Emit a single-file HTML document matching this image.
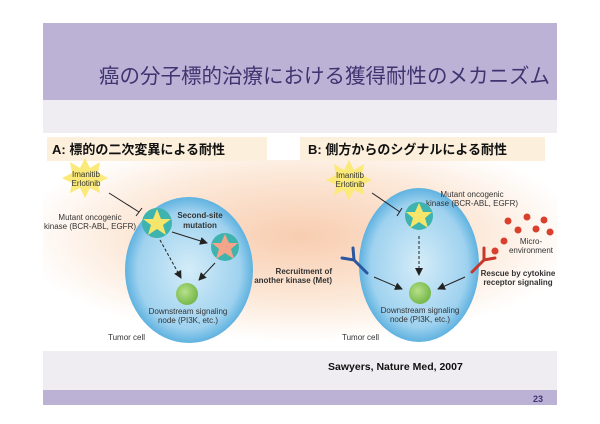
<!DOCTYPE html>
<html><head><meta charset="utf-8"><style>
body{margin:0;width:600px;height:424px;background:#fff;position:relative;overflow:hidden;font-family:"Liberation Sans","Noto Sans CJK JP",sans-serif}
.a{position:absolute}
</style></head><body>
<div class="a" style="left:43px;top:23px;width:514px;height:77px;background:#bcb2d6"></div>
<div class="a" style="left:43px;top:100px;width:514px;height:33px;background:#efedf2"></div>
<div class="a" style="left:99px;top:59px;font-size:20.5px;color:#3e3470;white-space:nowrap;letter-spacing:0px">癌の分子標的治療における獲得耐性のメカニズム</div>
<svg class="a" style="left:0;top:0" width="600" height="424">
<defs>
<radialGradient id="bg" cx="0.5" cy="0.4" r="0.55"><stop offset="0" stop-color="#f8cdb0"/><stop offset="0.6" stop-color="#fce8d8"/><stop offset="1" stop-color="#fff"/></radialGradient>
<radialGradient id="cell" cx="0.5" cy="0.5" r="0.5"><stop offset="0" stop-color="#d4ecf8"/><stop offset="0.8" stop-color="#9fd2ef"/><stop offset="1" stop-color="#5fb2e0"/></radialGradient>
<radialGradient id="gn" cx="0.4" cy="0.4" r="0.6"><stop offset="0" stop-color="#b8e08a"/><stop offset="1" stop-color="#76b84a"/></radialGradient>
<marker id="ar" markerWidth="8" markerHeight="8" refX="7" refY="4" orient="auto"><path d="M0,0L8,4L0,8z" fill="#222"/></marker>
</defs>
<rect x="43" y="160" width="514" height="191" fill="url(#bg)"/>
<rect x="47" y="137" width="220" height="24" fill="#fcefdc"/>
<rect x="300" y="137" width="245" height="24" fill="#fcefdc"/>
<rect x="43" y="351" width="514" height="39" fill="#efedf2"/>
<rect x="43" y="390" width="514" height="15" fill="#bcb2d6"/>
<!-- A -->
<ellipse cx="189" cy="270" rx="64" ry="73" fill="url(#cell)"/>
<polygon points="85,158 90,168 100,162 98,173 108,178 98,183 100,193 90,188 85,198 80,188 70,193 72,183 62,178 72,173 70,162 80,168" fill="#fbe97a"/>
<text x="86" y="177" font-size="8" text-anchor="middle" fill="#333">Imanitib</text>
<text x="86" y="186" font-size="8" text-anchor="middle" fill="#333">Erlotinib</text>
<line x1="109" y1="193" x2="139" y2="212" stroke="#222"/><line x1="136" y1="216" x2="142" y2="208" stroke="#222"/>
<text x="90" y="220" font-size="8" text-anchor="middle" fill="#333">Mutant oncogenic</text>
<text x="90" y="229" font-size="8" text-anchor="middle" fill="#333">kinase (BCR-ABL, EGFR)</text>
<circle cx="157" cy="223" r="15" fill="#3fb3ae"/>
<polygon points="157,209 161,219 171,219 163,225 166,235 157,229 148,235 151,225 143,219 153,219" fill="#f5e56a"/>
<circle cx="225" cy="247" r="14" fill="#3fb3ae"/>
<polygon points="225,234 229,243 238,243 231,249 234,259 225,253 216,259 219,249 212,243 221,243" fill="#f4a488"/>
<text x="200" y="218" font-size="8" font-weight="bold" text-anchor="middle" fill="#333">Second-site</text>
<text x="200" y="228" font-size="8" font-weight="bold" text-anchor="middle" fill="#333">mutation</text>
<line x1="172" y1="232" x2="207" y2="243" stroke="#222" marker-end="url(#ar)"/>
<line x1="160" y1="240" x2="181" y2="278" stroke="#222" stroke-dasharray="3,2" marker-end="url(#ar)"/>
<line x1="215" y1="263" x2="199" y2="280" stroke="#222" marker-end="url(#ar)"/>
<circle cx="187" cy="294" r="11" fill="url(#gn)"/>
<text x="188" y="314" font-size="8" text-anchor="middle" fill="#333">Downstream signaling</text>
<text x="188" y="323" font-size="8" text-anchor="middle" fill="#333">node (PI3K, etc.)</text>
<text x="108" y="340" font-size="8" fill="#333">Tumor cell</text>
<!-- B -->
<ellipse cx="419" cy="265" rx="60" ry="77" fill="url(#cell)"/>
<polygon points="349,160 354,170 364,164 362,175 372,180 362,185 364,195 354,190 349,200 344,190 334,195 336,185 326,180 336,175 334,164 344,170" fill="#fbe97a"/>
<text x="350" y="178" font-size="8" text-anchor="middle" fill="#333">Imanitib</text>
<text x="350" y="187" font-size="8" text-anchor="middle" fill="#333">Erlotinib</text>
<line x1="372" y1="193" x2="400" y2="212" stroke="#222"/><line x1="397" y1="216" x2="402" y2="208" stroke="#222"/>
<text x="472" y="197" font-size="8" text-anchor="middle" fill="#333">Mutant oncogenic</text>
<text x="472" y="206" font-size="8" text-anchor="middle" fill="#333">kinase (BCR-ABL, EGFR)</text>
<circle cx="419" cy="216" r="14" fill="#3fb3ae"/>
<polygon points="419,203 423,212 432,212 425,218 428,228 419,222 410,228 413,218 406,212 415,212" fill="#f5e56a"/>
<line x1="419" y1="236" x2="419" y2="275" stroke="#222" stroke-dasharray="3,2" marker-end="url(#ar)"/>
<circle cx="420" cy="293" r="11" fill="url(#gn)"/>
<text x="420" y="313" font-size="8" text-anchor="middle" fill="#333">Downstream signaling</text>
<text x="420" y="322" font-size="8" text-anchor="middle" fill="#333">node (PI3K, etc.)</text>
<text x="342" y="340" font-size="8" fill="#333">Tumor cell</text>
<path d="M342,258 L354,260 L353,248 M354,260 L367,273" stroke="#2a57a0" stroke-width="3" fill="none" stroke-linecap="round"/>
<text x="332" y="274" font-size="8" font-weight="bold" text-anchor="end" fill="#333">Recruitment of</text>
<text x="332" y="283" font-size="8" font-weight="bold" text-anchor="end" fill="#333">another kinase (Met)</text>
<line x1="374" y1="277" x2="402" y2="289" stroke="#222" marker-end="url(#ar)"/>
<path d="M484,248 L484,260 L495,258 M484,260 L472,272" stroke="#c8362a" stroke-width="3" fill="none" stroke-linecap="round"/>
<line x1="465" y1="277" x2="438" y2="289" stroke="#222" marker-end="url(#ar)"/>
<text x="518" y="276" font-size="8" font-weight="bold" text-anchor="middle" fill="#333">Rescue by cytokine</text>
<text x="518" y="285" font-size="8" font-weight="bold" text-anchor="middle" fill="#333">receptor signaling</text>
<g fill="#d9402e"><circle cx="508" cy="221" r="3.5"/><circle cx="527" cy="217" r="3.5"/><circle cx="544" cy="220" r="3.5"/><circle cx="518" cy="230" r="3.5"/><circle cx="536" cy="229" r="3.5"/><circle cx="550" cy="232" r="3.5"/><circle cx="504" cy="241" r="3.5"/><circle cx="495" cy="251" r="3.5"/></g>
<text x="531" y="244" font-size="8" text-anchor="middle" fill="#333">Micro-</text>
<text x="531" y="253" font-size="8" text-anchor="middle" fill="#333">environment</text>
<text x="52" y="154" font-size="13" font-weight="bold" fill="#111">A:  標的の二次変異による耐性</text>
<text x="308" y="154" font-size="13" font-weight="bold" fill="#111">B:  側方からのシグナルによる耐性</text>
<text x="328" y="370" font-size="10.5" font-weight="bold" fill="#111">Sawyers, Nature Med, 2007</text>
<text x="533" y="402" font-size="9" font-weight="bold" fill="#3e3470">23</text>
</svg>
</body></html>
